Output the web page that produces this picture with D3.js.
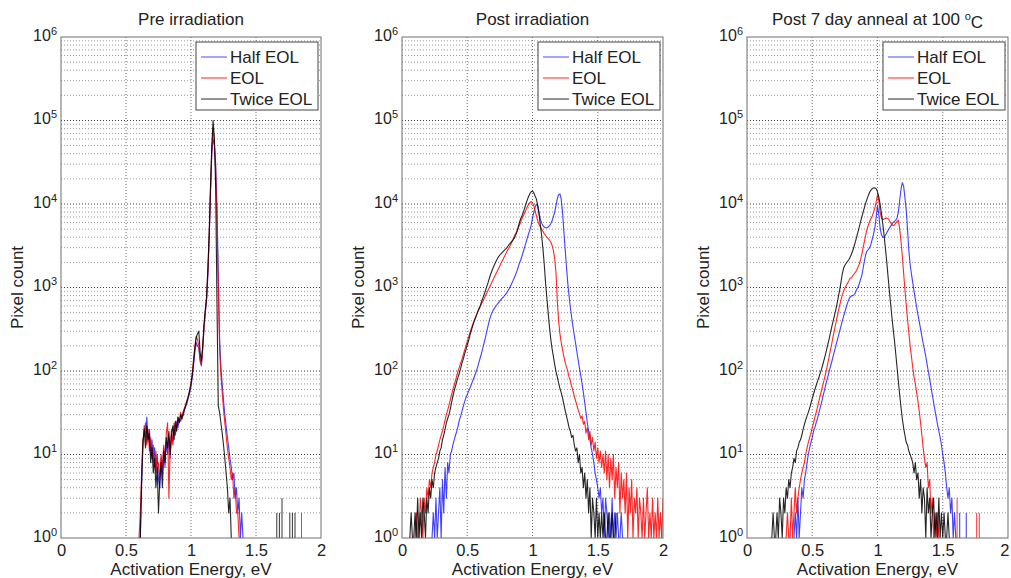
<!DOCTYPE html>
<html><head><meta charset="utf-8">
<script src="https://cdn.jsdelivr.net/npm/d3@7"></script>
<style>
body{margin:0;background:#fff;}
svg{display:block;font-family:"Liberation Sans",Arial,sans-serif;}
</style>
</head><body>
<svg id="c" width="1011" height="578"></svg>
<script>
// ---------------- DATA ----------------
const seriesNames = ["Half EOL", "EOL", "Twice EOL"];
const seriesColors = ["#0000ff", "#ff0000", "#000000"];
const panelTitles = ["Pre irradiation", "Post irradiation", "Post 7 day anneal at 100 °C"];
const xTicks = [0, 0.5, 1, 1.5, 2];
const yTickValues = [1, 10, 100, 1000, 10000, 100000, 1000000];
const binWidth = 0.01; // eV between histogram bins

// Pre irradiation
const preHalfStart = 0.60;
const preHalf = [1,1,4,12,22,16,28,14,20,10, 15,8,12,6,10,5,4,9,6,12, 7,14,10,16,9,18,14,22,17,25,
  21,27,25,30,29,34,38,42,48,55, 65,85,120,170,220,200,190,130,115,180,
  320,500,700,1400,3800,13000,40000,60000,50000,30000, 9000,1500,250,110,70,45,30,22,16,12,
  9,7,5,6,3,4,2,3,1,2, 1];
const preEolStart = 0.60;
const preEol = [1,2,6,15,18,24,13,20,11,16, 9,13,7,11,6,8,5,10,7,13, 9,18,24,3,12,20,13,24,18,22,
  28,24,32,26,33,36,40,45,50,60, 72,95,140,200,260,240,200,140,120,190,
  340,520,750,1600,4200,15000,45000,80000,55000,25000, 6000,900,180,90,55,35,24,17,12,9,
  7,5,6,3,4,2,2,1];
const preTwiceStart = 0.60;
const preTwice = [1,1,5,14,20,12,22,15,18,8, 12,6,9,4,7,2,5,8,4,11, 8,16,12,19,10,17,22,15,25,19,
  28,24,30,27,31,35,39,44,50,58, 70,90,130,190,250,280,300,170,130,200,
  360,540,780,1700,4500,16000,50000,100000,60000,15000, 600,38,32,24,18,13,9,6,4,2,
  3,1];
const preSpikesHalf = [];
const preSpikesEol = [[1.85, 2]];
const preSpikesTwice = [[1.66, 2], [1.68, 2], [1.70, 3], [1.76, 2], [1.78, 2], [1.80, 2]];

// Post irradiation
const postHalfStart = 0.22;
const postHalf = [1,1,2,1,3,1,2,4,
  1,5,2,7,3,8,6,10,11,13, 15,17,19,22,26,29,33,38,43,48,
  52,57,62,68,75,82,90,100,112,128, 145,165,190,220,255,300,350,410,460,500,
  540,570,600,630,660,690,720,750,780,815, 850,900,960,1030,1110,1200,1300,1420,1560,1750,
  1950,2150,2400,2700,3050,3450,3900,4400,4900,5600, 6800,8000,9200,9900,9600,8000,6600,5900,5500,5300,
  5200,5200,5300,5500,5800,6300,7000,8000,9500,11500, 13000,13200,11500,8000,4800,2900,1800,1150,800,580,
  440,340,270,215,170,135,108,88,70,55, 42,32,24,19,15,12,10,8,6,5,
  4,3,4,2,3,1,3,2,1,2, 1,3,1,2,1,2,1,1,2,1, 1];
const postEolStart = 0.10;
const postEol = [1,2,1,1,3,2,1,3,2,4, 3,5,4,6,7,8,10,11,13,15,
  17,19,22,26,30,34,39,45,52,60, 68,77,88,100,112,125,140,158,178,200,
  225,255,285,320,355,390,430,470,510,550, 590,640,690,740,800,860,930,1000,1080,1170,
  1260,1360,1460,1570,1690,1820,1960,2110,2270,2440, 2620,2810,3000,3200,3450,3750,4100,4400,4700,5100,
  5600,6100,6700,7300,7900,8500,9200,9900,10400,10700, 10300,9600,8300,7200,6300,5700,5300,5000,4700,4400,
  4200,4000,3850,3700,3500,3200,2800,2200,1500,700, 400,280,220,180,150,128,112,100,85,76,
  66,58,50,44,39,34,31,27,29,23, 25,18,21,15,19,13,16,11,14,9,
  12,8,11,7,10,6,11,5,10,4, 9,5,10,3,7,4,8,2,6,3,
  5,2,6,1,4,2,5,1,3,2, 4,1,3,2,1,3,1,2,4,1,
  2,1,3,1,2,1,3,1,2,1, 3];
const postTwiceStart = 0.06;
const postTwice = [1,2,1,1,
  2,1,3,1,2,1,3,2,1,3, 2,4,3,5,4,6,7,8,9,11,
  12,15,17,20,24,27,30,35,42,50, 58,66,75,85,95,108,125,140,160,180,
  205,230,265,300,340,380,420,460,510,560, 610,680,750,830,920,1030,1150,1300,1450,1600,
  1750,1900,2050,2200,2350,2450,2550,2650,2750,2850, 2950,3100,3250,3400,3550,3700,3900,4200,4600,5300,
  6000,6700,7300,8000,9000,10000,11200,12300,13300,14000, 14300,13600,12400,11500,9500,7500,5600,4200,2900,1900,
  1150,750,500,340,240,185,150,120,98,85, 72,62,55,48,40,34,29,25,21,19,
  16,17,13,11,12,8,10,6,7,4, 6,3,5,2,4,1,3,2,1,3,
  1,2,1,2,1,2,1,1,2,1, 1,2,1,1,2];
const postSpikesHalf = [];
const postSpikesEol = [];
const postSpikesTwice = [];

// Post 7 day anneal at 100 °C
const annealHalfStart = 0.36;
const annealHalf = [1,2,1,3,
  1,2,4,3,5,6,8,10,12,14, 16,19,21,24,27,31,36,41,48,56,
  65,75,86,99,114,130,150,172,198,228, 262,300,345,395,450,510,580,650,720,770,
  790,800,820,860,950,1000,1100,1250,1400,1700, 2100,2500,2750,2850,3000,3300,3800,4400,5200,7000,
  9500,7500,5200,4300,4000,4000,4200,4500,4800,5100, 5400,5700,6000,6200,6400,6800,8000,11000,15000,18000,
  16500,12000,8500,5000,2800,1900,1450,1150,900,720, 580,470,390,320,260,215,180,150,120,98,
  80,64,52,42,34,28,23,19,16,13, 10,8,6,4,3,4,2,3,1,2, 1,1];
const annealEolStart = 0.30;
const annealEol = [1,2,1,1,3,1,2,4,2,3, 4,5,6,7,8,10,12,14,16,18,
  21,24,28,32,37,43,50,58,67,77, 90,105,125,150,180,215,260,310,370,440,
  520,610,710,810,900,980,1050,1120,1200,1300, 1300,1380,1450,1520,1600,1750,1900,2150,2500,3000,
  3600,4300,5000,5600,6200,6700,7200,8000,9000,10500, 13000,11000,8000,6800,6500,6600,6700,6800,6700,6400,
  6000,5700,5500,5600,5900,6200,6400,5000,3600,2400, 1500,950,620,420,290,200,150,110,85,70,
  55,43,33,24,17,12,9,7,8,4, 5,2,3,1,2,1,2,1];
const annealTwiceStart = 0.18;
const annealTwice = [1,1,
  2,1,1,2,1,3,2,1,3,2, 4,3,5,4,6,7,9,8,11,12,
  14,15,17,20,23,26,29,32,36,41, 47,53,60,67,75,83,93,104,118,135,
  155,180,210,245,290,340,395,460,540,640, 770,930,1150,1450,1700,1850,1950,2050,2150,2300,
  2500,2750,3100,3500,4000,4600,5300,6100,7000,8000, 9100,10300,11500,12700,13800,14700,15300,15600,15600,15200,
  14000,12200,10000,7800,5900,4300,3000,2100,1400,950, 650,450,320,230,160,110,75,52,37,27,
  21,17,14,13,11,10,9,8,6,8, 5,6,3,5,2,4,3,1,4,2,
  3,1,2,3,1,2,1,3,1,2, 1,2,1,1,2,1];
const annealSpikesHalf = [[1.63, 2], [1.68, 2]];
const annealSpikesEol = [[1.61, 3], [1.76, 2], [1.78, 2]];
const annealSpikesTwice = [];

// ---------------- LAYOUT ----------------
const plotTop = 37, plotBottom = 538;
const panelX = [[61, 321], [402, 663], [747, 1008]];

const panels = [
  { title: panelTitles[0],
    series: [[preHalfStart, preHalf], [preEolStart, preEol], [preTwiceStart, preTwice]],
    spikes: [preSpikesHalf, preSpikesEol, preSpikesTwice] },
  { title: panelTitles[1],
    series: [[postHalfStart, postHalf], [postEolStart, postEol], [postTwiceStart, postTwice]],
    spikes: [postSpikesHalf, postSpikesEol, postSpikesTwice] },
  { title: panelTitles[2],
    series: [[annealHalfStart, annealHalf], [annealEolStart, annealEol], [annealTwiceStart, annealTwice]],
    spikes: [annealSpikesHalf, annealSpikesEol, annealSpikesTwice] }
];

const svg = d3.select("#c");
const font = '"Liberation Sans", Arial, sans-serif';
const svgWidth = 1011;

const minorVals = [];
for (let k = 0; k < 6; k++) for (let m = 2; m <= 9; m++) minorVals.push(m * Math.pow(10, k));

panels.forEach((p, pi) => {
  const [x0, x1] = panelX[pi];
  const x = d3.scaleLinear().domain([0, 2]).range([x0, x1]);
  const y = d3.scaleLog().domain([1, 1e6]).range([plotBottom, plotTop]);
  const g = svg.append("g");

  // grid
  const grid = g.append("g").attr("stroke", "#000").attr("stroke-dasharray", "1,2").attr("fill", "none");
  grid.selectAll("line.minor").data(minorVals).enter().append("line")
    .attr("x1", x0).attr("x2", x1).attr("y1", d => y(d)).attr("y2", d => y(d))
    .attr("stroke-opacity", 0.4);
  grid.selectAll("line.major").data(yTickValues.slice(1, -1)).enter().append("line")
    .attr("x1", x0).attr("x2", x1).attr("y1", d => y(d)).attr("y2", d => y(d))
    .attr("stroke-opacity", 0.75);
  grid.selectAll("line.xg").data(xTicks.slice(1, -1)).enter().append("line")
    .attr("x1", d => x(d)).attr("x2", d => x(d)).attr("y1", plotTop).attr("y2", plotBottom)
    .attr("stroke-opacity", 0.55);

  // clip
  const cid = "clip" + pi;
  svg.append("clipPath").attr("id", cid).append("rect")
    .attr("x", x0).attr("y", plotTop).attr("width", x1 - x0).attr("height", plotBottom - plotTop);
  const plot = g.append("g").attr("clip-path", `url(#${cid})`);

  const line = d3.line().x(d => x(d[0])).y(d => y(d[1]));
  p.series.forEach(([start, vals], si) => {
    const pts = vals.map((v, i) => [start + i * binWidth, v]);
    plot.append("path").datum(pts)
      .attr("d", line)
      .attr("fill", "none")
      .attr("stroke", seriesColors[si])
      .attr("stroke-width", 1.1)
      .attr("stroke-opacity", si === 0 ? 0.75 : 0.85)
      .attr("stroke-linejoin", "round");
    plot.selectAll(null).data(p.spikes[si]).enter().append("line")
      .attr("x1", d => x(d[0])).attr("x2", d => x(d[0]))
      .attr("y1", y(1)).attr("y2", d => y(d[1]))
      .attr("stroke", seriesColors[si]).attr("stroke-width", 1).attr("stroke-opacity", 0.8);
  });

  // box
  g.append("rect").attr("x", x0).attr("y", plotTop).attr("width", x1 - x0).attr("height", plotBottom - plotTop)
    .attr("fill", "none").attr("stroke", "#6e6e6e").attr("stroke-width", 1);

  // x axis
  const xa = g.append("g").attr("transform", `translate(0,${plotBottom})`)
    .call(d3.axisBottom(x).tickValues(xTicks).tickSize(0).tickPadding(6).tickFormat(d3.format("")));
  xa.select(".domain").remove();
  xa.selectAll("text").attr("font-size", "16.5px").attr("font-family", font).attr("fill", "#222");
  // keep a tick label that would run past the page edge inside it
  xa.selectAll(".tick").filter(d => x(d) + 6 > svgWidth).select("text")
    .attr("text-anchor", "end").attr("x", svgWidth - 2 - x(2));

  // y axis
  const ya = g.append("g").attr("transform", `translate(${x0},0)`)
    .call(d3.axisLeft(y).tickValues(yTickValues).tickSize(0).tickPadding(4).tickFormat(() => ""));
  ya.select(".domain").remove();
  ya.selectAll("text").attr("font-size", "16px").attr("font-family", font).attr("fill", "#222")
    .attr("dy", "0.2em")
    .each(function (d) {
      const t = d3.select(this);
      t.append("tspan").text("10");
      t.append("tspan").attr("dy", "-0.55em").attr("font-size", "11px").text(Math.round(Math.log10(d)));
    });

  // labels
  g.append("text").attr("x", (x0 + x1) / 2).attr("y", 575).attr("text-anchor", "middle")
    .attr("font-size", "17px").attr("font-family", font).attr("fill", "#222").text("Activation Energy, eV");
  g.append("text").attr("transform", `translate(${x0 - 38},${(plotTop + plotBottom) / 2}) rotate(-90)`)
    .attr("text-anchor", "middle").attr("font-size", "17px").attr("font-family", font).attr("fill", "#222")
    .text("Pixel count");

  const title = g.append("text").attr("x", (x0 + x1) / 2).attr("y", 25).attr("text-anchor", "middle")
    .attr("font-size", "17px").attr("font-family", font).attr("fill", "#222");
  if (p.title.indexOf("°C") >= 0) {
    title.append("tspan").text(p.title.replace("°C", ""));
    title.append("tspan").attr("dy", "-0.5em").attr("font-size", "11px").text("o");
    title.append("tspan").attr("dy", "0.5em").text("C");
  } else {
    title.text(p.title);
  }

  // legend
  const lw = 122, lh = 68, lx = x1 - 3 - lw, ly = 42;
  const lg = g.append("g");
  lg.append("rect").attr("x", lx).attr("y", ly).attr("width", lw).attr("height", lh)
    .attr("fill", "#fff").attr("stroke", "#444").attr("stroke-width", 1);
  seriesNames.forEach((nm, si) => {
    const yy = ly + 15 + si * 21;
    lg.append("line").attr("x1", lx + 5).attr("x2", lx + 31).attr("y1", yy).attr("y2", yy)
      .attr("stroke", seriesColors[si]).attr("stroke-width", 1).attr("stroke-opacity", si === 0 ? 0.7 : 0.85);
    lg.append("text").attr("x", lx + 34).attr("y", yy).attr("dy", "0.35em")
      .attr("font-size", "17px").attr("font-family", font).attr("fill", "#222").text(nm);
  });
});
</script>
</body></html>
